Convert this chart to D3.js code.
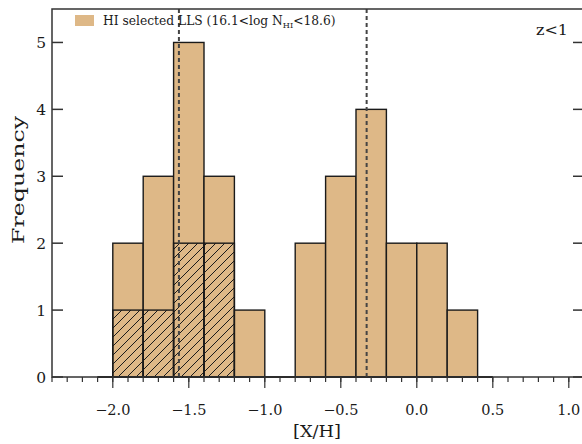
<!DOCTYPE html>
<html><head><meta charset="utf-8">
<script src="https://cdn.jsdelivr.net/npm/d3@7"></script>
<style>html,body{margin:0;padding:0;background:#fff;}svg{display:block;}</style>
</head><body>
<script>
// ---- data ----
const binLo = [-2.0,-1.8,-1.6,-1.4,-1.2,-1.0,-0.8,-0.6,-0.4,-0.2,0.0,0.2];
const binWidth = 0.2;
const allCounts   = [2,3,5,3,1,0,2,3,4,2,2,1];
const hatchCounts = [1,1,2,2,0,0,0,0,0,0,0,0];
const mainOutlineRange  = [-2.1, 0.5];
const hatchOutlineRange = [-2.1, -1.1];
const medianLines = [-1.565, -0.33];
const xMajorTicks = [-2.0,-1.5,-1.0,-0.5,0.0,0.5,1.0];
const xMinorTicks = d3.range(-24, 12).map(i => i/10);
const yTicks = [0,1,2,3,4,5];
const legendLabel = ["HI selected LLS (16.1<log N", "HI", "<18.6)"];
const panelLabel = "z<1";
const xTitle = "[X/H]";
const yTitle = "Frequency";

// ---- layout ----
const W = 582, H = 444;
const L = 52, R = 584, T = 9, B = 377;
const x = d3.scaleLinear().domain([-2.4, 1.1]).range([L, R]);
const y = d3.scaleLinear().domain([0, 5.5]).range([B, T]);
const fill = "#DEB887", ink = "#1a1a1a";
const font = "'DejaVu Serif', serif";

const svg = d3.select("body").append("svg").attr("width", W).attr("height", H);
const defs = svg.append("defs");
const pat = defs.append("pattern").attr("id","hatch").attr("patternUnits","userSpaceOnUse")
  .attr("width",9).attr("height",9);
pat.append("path").attr("d","M-2,2 L2,-2 M0,9 L9,0 M7,11 L11,7")
  .attr("stroke", ink).attr("stroke-width",1);

const bins = binLo.map((lo,i)=>({lo, hi: lo+binWidth, n: allCounts[i], h: hatchCounts[i]}));

// main bars
svg.append("g").selectAll("rect").data(bins.filter(d=>d.n>0)).join("rect")
  .attr("x", d=>x(d.lo)).attr("width", d=>x(d.hi)-x(d.lo))
  .attr("y", d=>y(d.n)).attr("height", d=>y(0)-y(d.n))
  .attr("fill", fill).attr("stroke", ink).attr("stroke-width",1.4);
// hatched bars
svg.append("g").selectAll("rect").data(bins.filter(d=>d.h>0)).join("rect")
  .attr("x", d=>x(d.lo)).attr("width", d=>x(d.hi)-x(d.lo))
  .attr("y", d=>y(d.h)).attr("height", d=>y(0)-y(d.h))
  .attr("fill", "url(#hatch)").attr("stroke", ink).attr("stroke-width",1.4);
// zero-level outline segments
[mainOutlineRange, hatchOutlineRange].forEach(r=>{
  svg.append("line").attr("x1",x(r[0])).attr("x2",x(r[1])).attr("y1",y(0)).attr("y2",y(0))
    .attr("stroke", ink).attr("stroke-width",2);
});

// median dashed lines
svg.append("g").selectAll("line").data(medianLines).join("line")
  .attr("x1", d=>x(d)).attr("x2", d=>x(d)).attr("y1", T).attr("y2", B)
  .attr("stroke","#444").attr("stroke-width",2).attr("stroke-dasharray","4,3");

// frame
const ax = svg.append("g").attr("stroke", "#333").attr("stroke-width",1.5).attr("fill","none");
ax.append("rect").attr("x",L).attr("y",T).attr("width",R-L).attr("height",B-T);
// x ticks (outward)
ax.selectAll(".xmin").data(xMinorTicks).join("line")
  .attr("x1",d=>x(d)).attr("x2",d=>x(d)).attr("y1",B).attr("y2",B+5).attr("stroke-width",1.2);
ax.selectAll(".xmaj").data(xMajorTicks).join("line")
  .attr("x1",d=>x(d)).attr("x2",d=>x(d)).attr("y1",B).attr("y2",B+11).attr("stroke-width",1.2);
// y ticks (inward, both sides)
ax.selectAll(".yl").data(yTicks).join("line")
  .attr("x1",L).attr("x2",L+11).attr("y1",d=>y(d)).attr("y2",d=>y(d));
ax.selectAll(".yr").data(yTicks).join("line")
  .attr("x1",R).attr("x2",R-11).attr("y1",d=>y(d)).attr("y2",d=>y(d));

// tick labels
const fmt = d => (d<0?"\u2212":"") + Math.abs(d).toFixed(1);
svg.append("g").selectAll("text").data(xMajorTicks).join("text")
  .attr("x", d=>x(d)).attr("y", 415).attr("text-anchor","middle")
  .attr("font-family",font).attr("font-size",14.5).attr("fill",ink).text(fmt);
svg.append("g").selectAll("text").data(yTicks).join("text")
  .attr("x", 46).attr("y", d=>y(d)+5.5).attr("text-anchor","end")
  .attr("font-family",font).attr("font-size",15.5).attr("fill",ink).text(d=>d);

// titles
svg.append("text").attr("x",317).attr("y",437).attr("text-anchor","middle")
  .attr("font-family",font).attr("font-size",16).attr("fill",ink)
  .attr("textLength",48).attr("lengthAdjust","spacingAndGlyphs").text(xTitle);
svg.append("text").attr("transform","translate(24,180) rotate(-90)").attr("text-anchor","middle")
  .attr("font-family",font).attr("font-size",17).attr("fill",ink)
  .attr("textLength",128).attr("lengthAdjust","spacingAndGlyphs").text(yTitle);
svg.append("text").attr("x",552).attr("y",35).attr("text-anchor","middle")
  .attr("font-family",font).attr("font-size",15).attr("fill",ink)
  .attr("textLength",32).attr("lengthAdjust","spacingAndGlyphs").text(panelLabel);

// legend
svg.append("rect").attr("x",75).attr("y",15).attr("width",19).attr("height",11).attr("fill",fill);
const lt = svg.append("text").attr("x",103).attr("y",25.5)
  .attr("font-family",font).attr("font-size",12).attr("fill",ink);
lt.append("tspan").text(legendLabel[0]);
lt.append("tspan").attr("font-size",8).attr("dy",2.5).text(legendLabel[1]);
lt.append("tspan").attr("dy",-2.5).text(legendLabel[2]);
// fit legend width
const bb = lt.node().getComputedTextLength();
const targetW = 233;
if (bb > 0) lt.attr("transform", `translate(103,0) scale(${targetW/bb},1) translate(-103,0)`);
</script>
</body></html>
